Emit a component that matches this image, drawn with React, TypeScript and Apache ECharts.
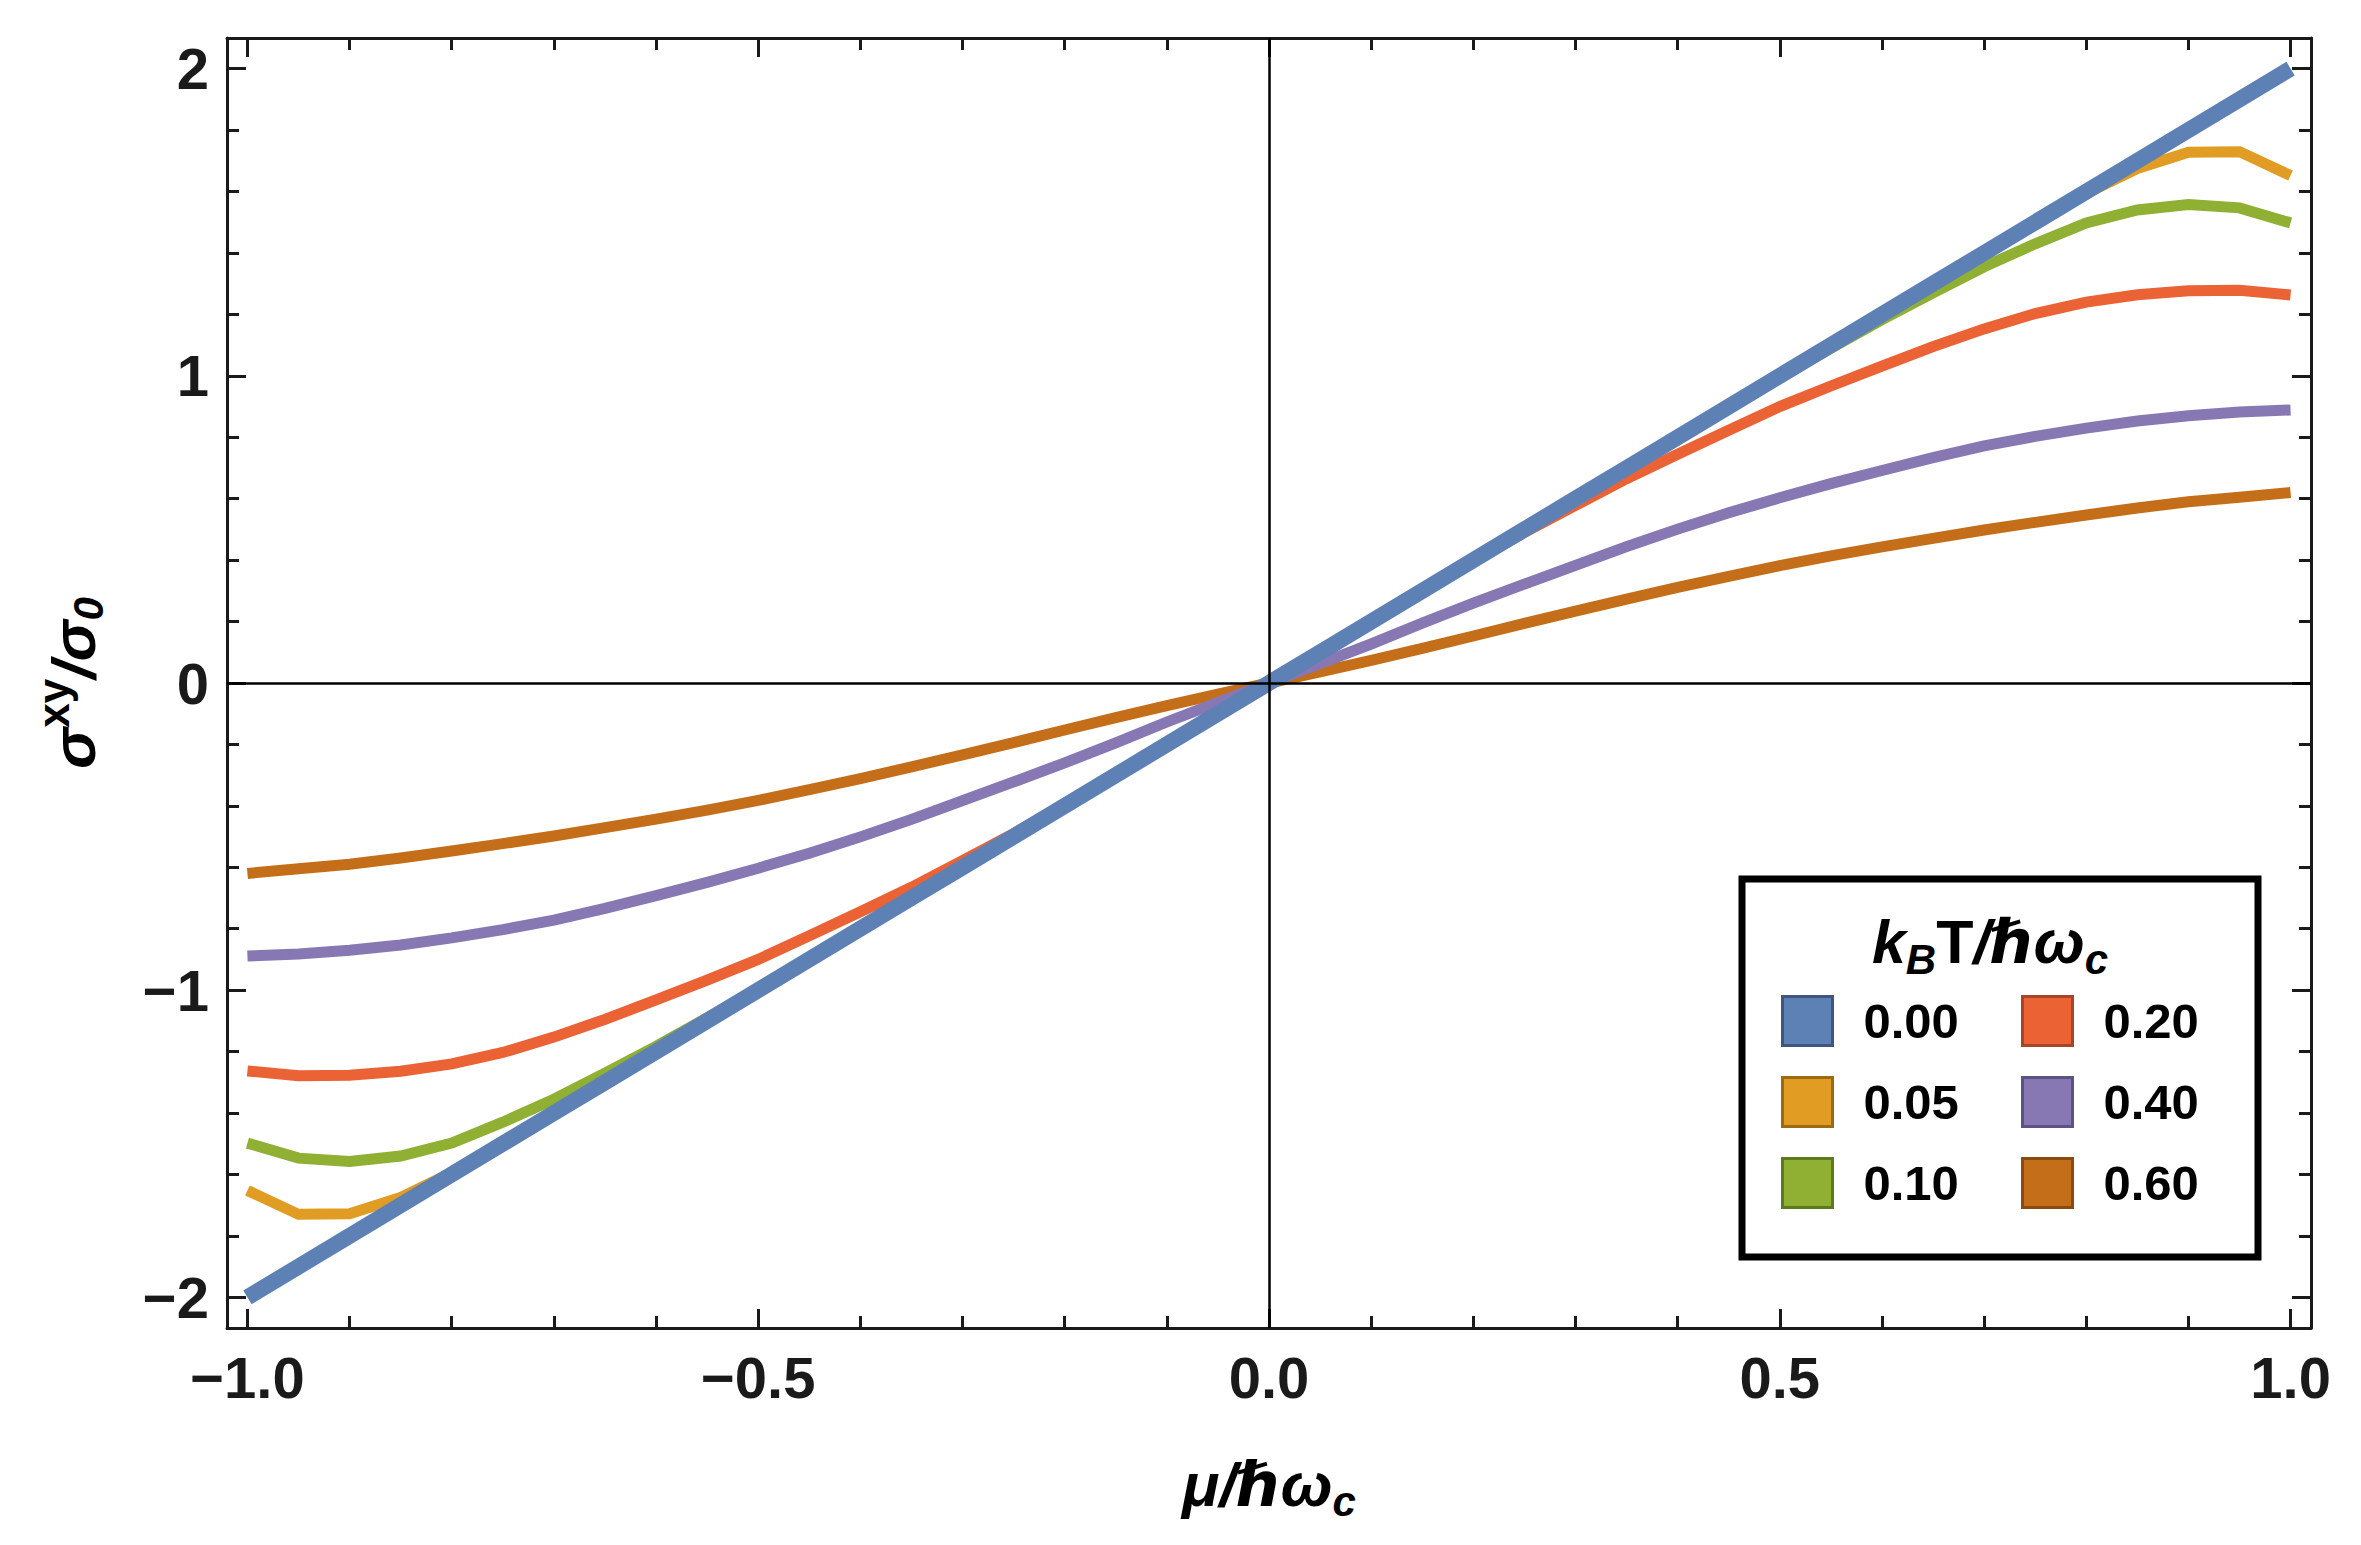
import React, { useEffect, useRef } from "react";
import * as echarts from "echarts";

const FONT = "'Liberation Sans', Arial, 'DejaVu Sans', sans-serif";

// chemical potential μ/ħω_c sample points
const MU = [-1, -0.95, -0.9, -0.85, -0.8, -0.75, -0.7, -0.65, -0.6, -0.55, -0.5, -0.45, -0.4, -0.35, -0.3, -0.25, -0.2, -0.15, -0.1, -0.05, 0, 0.05, 0.1, 0.15, 0.2, 0.25, 0.3, 0.35, 0.4, 0.45, 0.5, 0.55, 0.6, 0.65, 0.7, 0.75, 0.8, 0.85, 0.9, 0.95, 1];

// σ^xy/σ_0 for each k_B T/ħω_c
const T000 = [-2, -1.9, -1.8, -1.7, -1.6, -1.5, -1.4, -1.3, -1.2, -1.1, -1, -0.9, -0.8, -0.7, -0.6, -0.5, -0.4, -0.3, -0.2, -0.1, 0, 0.1, 0.2, 0.3, 0.4, 0.5, 0.6, 0.7, 0.8, 0.9, 1, 1.1, 1.2, 1.3, 1.4, 1.5, 1.6, 1.7, 1.8, 1.9, 2];
const T005 = [-1.652, -1.73, -1.728, -1.675, -1.594, -1.499, -1.4, -1.3, -1.2, -1.1, -1, -0.9, -0.8, -0.7, -0.6, -0.5, -0.4, -0.3, -0.2, -0.1, 0, 0.1, 0.2, 0.3, 0.4, 0.5, 0.6, 0.7, 0.8, 0.9, 1, 1.1, 1.2, 1.3, 1.4, 1.499, 1.594, 1.675, 1.728, 1.73, 1.652];
const T010 = [-1.498, -1.547, -1.558, -1.54, -1.498, -1.43, -1.355, -1.27, -1.183, -1.09, -0.995, -0.898, -0.799, -0.7, -0.6, -0.5, -0.4, -0.3, -0.2, -0.1, 0, 0.1, 0.2, 0.3, 0.4, 0.5, 0.6, 0.7, 0.799, 0.898, 0.995, 1.09, 1.183, 1.27, 1.355, 1.43, 1.498, 1.54, 1.558, 1.547, 1.498];
const T020 = [-1.263, -1.279, -1.277, -1.264, -1.24, -1.203, -1.153, -1.095, -1.032, -0.967, -0.9, -0.823, -0.745, -0.665, -0.578, -0.49, -0.396, -0.299, -0.2, -0.1, 0, 0.1, 0.2, 0.299, 0.396, 0.49, 0.578, 0.665, 0.745, 0.823, 0.9, 0.967, 1.032, 1.095, 1.153, 1.203, 1.24, 1.264, 1.277, 1.279, 1.263];
const T040 = [-0.889, -0.882, -0.87, -0.853, -0.83, -0.803, -0.772, -0.734, -0.692, -0.649, -0.603, -0.554, -0.501, -0.444, -0.383, -0.322, -0.26, -0.195, -0.127, -0.063, 0, 0.063, 0.127, 0.195, 0.26, 0.322, 0.383, 0.444, 0.501, 0.554, 0.603, 0.649, 0.692, 0.734, 0.772, 0.803, 0.83, 0.853, 0.87, 0.882, 0.889];
const T060 = [-0.62, -0.605, -0.59, -0.57, -0.547, -0.523, -0.498, -0.471, -0.443, -0.414, -0.382, -0.347, -0.311, -0.273, -0.234, -0.194, -0.153, -0.113, -0.074, -0.036, 0, 0.036, 0.074, 0.113, 0.153, 0.194, 0.234, 0.273, 0.311, 0.347, 0.382, 0.414, 0.443, 0.471, 0.498, 0.523, 0.547, 0.57, 0.59, 0.605, 0.62];

const NAMES = ["0.00", "0.05", "0.10", "0.20", "0.40", "0.60"];
const VALUES = [T000, T005, T010, T020, T040, T060];
const COLORS = ["#5e81b5", "#e19c24", "#8fb032", "#eb6235", "#8778b3", "#c56e1a"];
const EDGE_COLORS = ["#3f5780", "#9c6a12", "#5d7a1e", "#a8442a", "#5d5284", "#8a4a10"];
const WIDTHS = [16, 11, 11, 11, 11, 11];

// axis ticks
const X_MAJOR = [-1, -0.5, 0, 0.5, 1];
const X_MINOR = [-0.9, -0.8, -0.7, -0.6, -0.4, -0.3, -0.2, -0.1, 0.1, 0.2, 0.3, 0.4, 0.6, 0.7, 0.8, 0.9];
const Y_MAJOR = [-2, -1, 0, 1, 2];
const Y_MINOR = [-1.8, -1.6, -1.4, -1.2, -0.8, -0.6, -0.4, -0.2, 0.2, 0.4, 0.6, 0.8, 1.2, 1.4, 1.6, 1.8];
const X_RANGE = [-1.02, 1.02];
const Y_RANGE = [-2.1, 2.1];

const INK = "#1a1a1a";

function minusFmt(v: number, digits: number) {
  const s = Math.abs(v).toFixed(digits);
  return v < 0 ? "\u2212" + s : s;
}

function makeAxis(kind: "x" | "y", position: string, major: boolean, withLabels: boolean, extra: any = {}) {
  const range = kind === "x" ? X_RANGE : Y_RANGE;
  const ticks = major ? (kind === "x" ? X_MAJOR : Y_MAJOR) : kind === "x" ? X_MINOR : Y_MINOR;
  return {
    type: "value",
    position,
    min: range[0],
    max: range[1],
    splitLine: { show: false },
    axisPointer: { show: false },
    axisLine: { show: major, onZero: false, lineStyle: { color: INK, width: 3 } },
    axisTick: {
      show: true,
      inside: true,
      customValues: ticks,
      length: major ? 19 : 12,
      lineStyle: { color: INK, width: 3 },
    },
    axisLabel: withLabels
      ? {
          show: true,
          customValues: ticks,
          fontSize: 58,
          fontWeight: "bold",
          fontFamily: FONT,
          color: INK,
          margin: kind === "x" ? 20 : 18,
          formatter: (v: number) => minusFmt(v, kind === "x" ? 1 : 0),
        }
      : { show: false },
    ...extra,
  };
}

export default function App() {
  const ref = useRef<HTMLDivElement>(null);

  useEffect(() => {
    document.body.style.margin = "0";
    document.body.style.background = "#ffffff";
    if (!ref.current) return;
    const chart = echarts.init(ref.current, undefined, { renderer: "svg" });

    const lineSeries = NAMES.map((name, i) => ({
      type: "line",
      name,
      data: MU.map((m, j) => [m, VALUES[i][j]]),
      showSymbol: false,
      symbol: "none",
      silent: true,
      clip: true,
      z: 2,
      itemStyle: { color: COLORS[i] },
      lineStyle: { color: COLORS[i], width: WIDTHS[i], cap: "butt", join: "miter" },
      emphasis: { disabled: true },
    }));
    // draw the hottest curve first so that T = 0 lies on top
    const ordered = lineSeries.slice().reverse();

    const legendItem = (name: string) => {
      const i = NAMES.indexOf(name);
      return { name, itemStyle: { color: COLORS[i], borderColor: EDGE_COLORS[i], borderWidth: 3 } };
    };
    const legendText = {
      fontSize: 49,
      fontWeight: "bold",
      fontFamily: FONT,
      color: "#000",
      lineHeight: 49,
      padding: [0, 0, 0, 26],
    };

    const nameRichMain = { fontSize: 62, fontStyle: "italic", fontWeight: "bold", fontFamily: FONT, color: "#000" };

    const option: any = {
      animation: false,
      backgroundColor: "#ffffff",
      grid: { left: 227, top: 38, width: 2084, height: 1290, containLabel: false, outerBoundsMode: "none" },
      xAxis: [
        makeAxis("x", "bottom", true, true, {
          name: "{a|\u03bc/\u210f\u03c9}{s|c}",
          nameLocation: "middle",
          nameGap: 118,
          nameTextStyle: {
            rich: {
              a: nameRichMain,
              s: { fontSize: 42, fontStyle: "italic", fontWeight: "bold", fontFamily: FONT, color: "#000", padding: [34, 0, 0, 0] },
            },
          },
        }),
        makeAxis("x", "bottom", false, false),
        makeAxis("x", "top", true, false),
        makeAxis("x", "top", false, false),
      ],
      yAxis: [
        makeAxis("y", "left", true, true, {
          name: "{a|\u03c3}{p|xy}{a|/\u03c3}{s|0}",
          nameLocation: "middle",
          nameRotate: 90,
          nameGap: 112,
          nameTextStyle: {
            rich: {
              a: nameRichMain,
              p: { fontSize: 44, fontWeight: "bold", fontFamily: FONT, color: "#000", padding: [0, 0, 40, 0] },
              s: { fontSize: 42, fontStyle: "italic", fontWeight: "bold", fontFamily: FONT, color: "#000", padding: [30, 0, 0, 0] },
            },
          },
        }),
        makeAxis("y", "left", false, false),
        makeAxis("y", "right", true, false),
        makeAxis("y", "right", false, false),
      ],
      legend: [
        {
          orient: "vertical",
          left: 1781,
          top: 995,
          padding: 0,
          itemGap: 29,
          itemWidth: 50,
          itemHeight: 49,
          icon: "rect",
          selectedMode: false,
          data: ["0.00", "0.05", "0.10"].map(legendItem),
          textStyle: legendText,
        },
        {
          orient: "vertical",
          left: 2021,
          top: 995,
          padding: 0,
          itemGap: 29,
          itemWidth: 50,
          itemHeight: 49,
          icon: "rect",
          selectedMode: false,
          data: ["0.20", "0.40", "0.60"].map(legendItem),
          textStyle: legendText,
        },
      ],
      graphic: [
        {
          type: "rect",
          z: 3,
          silent: true,
          shape: { x: 1742, y: 879, width: 516, height: 378 },
          style: { fill: "#ffffff", stroke: "#000000", lineWidth: 7 },
        },
        {
          type: "text",
          z: 5,
          silent: true,
          x: 1990,
          y: 942,
          style: {
            text: "{i|k}{s|B}{n|T}{i|/\u210f\u03c9}{s|c}",
            align: "center",
            verticalAlign: "middle",
            rich: {
              i: { fontSize: 61, fontStyle: "italic", fontWeight: "bold", fontFamily: FONT, fill: "#000" },
              n: { fontSize: 61, fontWeight: "bold", fontFamily: FONT, fill: "#000" },
              s: { fontSize: 42, fontStyle: "italic", fontWeight: "bold", fontFamily: FONT, fill: "#000", padding: [34, 0, 0, 0] },
            },
          },
        },
      ],
      series: [
        ...ordered,
        {
          type: "line",
          name: "origin axes",
          data: [],
          silent: true,
          markLine: {
            silent: true,
            symbol: "none",
            animation: false,
            label: { show: false },
            emphasis: { disabled: true },
            lineStyle: { color: "#000000", width: 2.5, type: "solid" },
            data: [{ xAxis: 0 }, { yAxis: 0 }],
          },
        },
      ],
    };

    chart.setOption(option);
    return () => {
      chart.dispose();
    };
  }, []);

  return <div ref={ref} style={{ width: 2361, height: 1545 }} />;
}
